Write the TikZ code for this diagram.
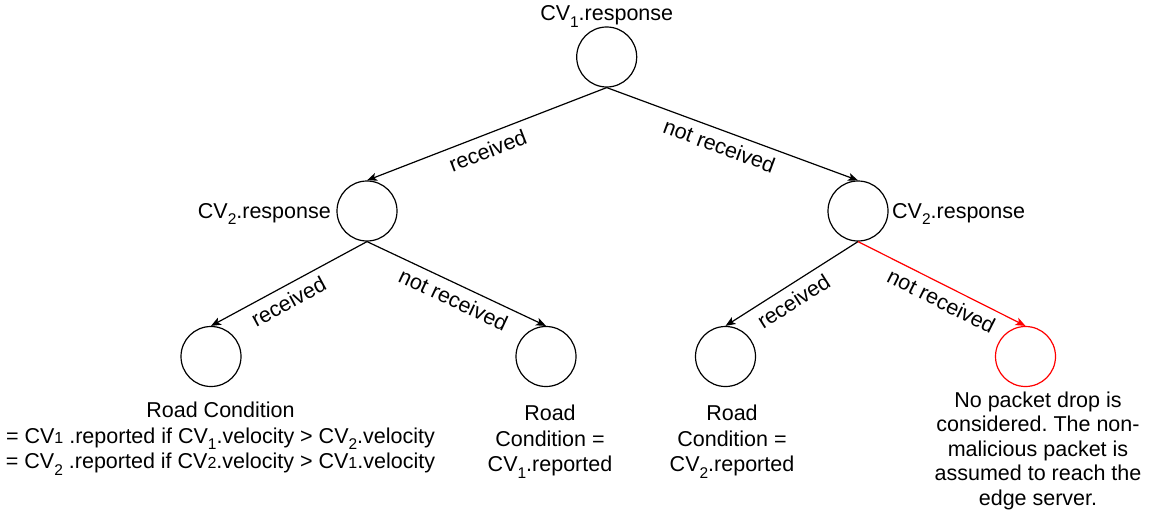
\documentclass[tikz,border=0pt]{standalone}
\usepackage{fontspec}
\setmainfont{Liberation Sans}
\usetikzlibrary{arrows.meta}
\definecolor{alertred}{RGB}{255,0,0}
\frenchspacing
% lowered subscript and small baseline digit
\newcommand\lsub[1]{\raisebox{-0.28em}{\fontsize{15.5}{15.5}\selectfont #1}}
\newcommand\sdig[1]{{\fontsize{16}{16}\selectfont #1}}
\begin{document}
\begin{tikzpicture}[x=1pt,y=-1pt,
  state/.style={circle,draw,line width=1.2pt,minimum size=60pt,inner sep=0pt},
  txt/.style={font=\fontsize{21.5}{25.8}\selectfont,inner sep=0pt},
  link/.style={line width=1.2pt,-{Stealth[length=10pt,width=8pt,inset=2.5pt]}},
  lbl/.style={font=\fontsize{21.5}{25.8}\selectfont,pos=0.52,sloped,below,inner sep=7pt}]
\useasboundingbox (0,0) rectangle (1153,516);

% decision states
\node[state] (root) at (606.7,57) {};
\node[state] (lm) at (367,211) {};
\node[state] (rm) at (858,211) {};
\node[state] (ll) at (211,356.5) {};
\node[state] (lr) at (546,356.5) {};
\node[state] (rl) at (725.5,356.5) {};
\node[state,draw=alertred] (rr) at (1025.5,356.5) {};

% state names
\node[txt,anchor=base] (rootname) at (606.7,21) {CV\lsub{1}.response};
\node[txt,anchor=base east] (lmname) at (331,218) {CV\lsub{2}.response};
\node[txt,anchor=base west] (rmname) at (892,218) {CV\lsub{2}.response};

% branches
\draw[link] (root.south) -- node[lbl] {received} (lm.north);
\draw[link] (root.south) -- node[lbl,pos=0.47] {not received} (rm.north);
\draw[link] (lm.south) -- node[lbl,pos=0.55] {received} (ll.north);
\draw[link] (lm.south) -- node[lbl] {not received} (lr.north);
\draw[link] (rm.south) -- node[lbl,pos=0.55] {received} (rl.north);
\draw[link,draw=alertred,fill=alertred] (rm.south) -- node[lbl,pos=0.54,text=black] {not received} (rr.north);

% outcomes
\node[txt,anchor=north,align=center] (llout) at (220.5,401.6)
  {Road Condition\\
   = CV\sdig{1} .reported if CV\lsub{1}.velocity > CV\lsub{2}.velocity\\
   = CV\lsub{2} .reported if CV\sdig{2}.velocity > CV\sdig{1}.velocity};
\node[txt,anchor=north,align=center] (lrout) at (550,404.6)
  {Road\\Condition =\\CV\lsub{1}.reported};
\node[txt,anchor=north,align=center] (rlout) at (732,404.6)
  {Road\\Condition =\\CV\lsub{2}.reported};
\node[txt,anchor=north,align=center,font=\fontsize{21.5}{24.5}\selectfont] (rrout) at (1038,391.6)
  {No packet drop is\\considered. The non-\\malicious packet is\\assumed to reach the\\edge server.};
\end{tikzpicture}
\end{document}
